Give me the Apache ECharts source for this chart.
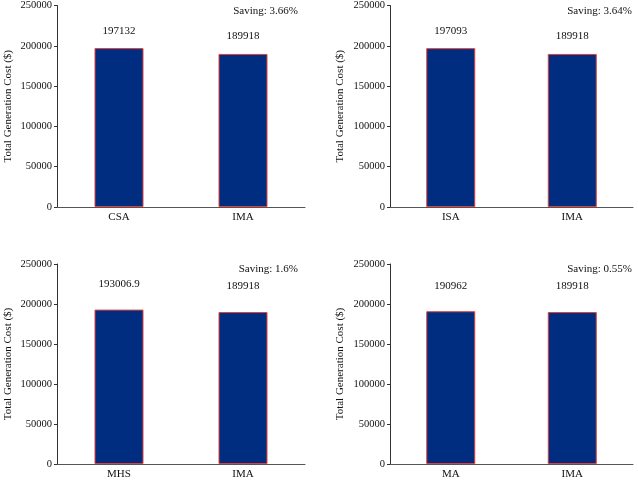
<!DOCTYPE html>
<html>
<head>
<meta charset="utf-8">
<script src="https://cdn.jsdelivr.net/npm/echarts@6/dist/echarts.min.js"></script>
<style>html,body{margin:0;padding:0;background:#fff;}#c{width:638px;height:480px;}</style>
</head>
<body>
<div id="c"></div>
<script>
var categories1 = ['CSA', 'IMA'];
var values1 = [197132, 189918];
var categories2 = ['ISA', 'IMA'];
var values2 = [197093, 189918];
var categories3 = ['MHS', 'IMA'];
var values3 = [193006.9, 189918];
var categories4 = ['MA', 'IMA'];
var values4 = [190962, 189918];
var savings = ['Saving: 3.66%', 'Saving: 3.64%', 'Saving: 1.6%', 'Saving: 0.55%'];
var yTicks = [0, 50000, 100000, 150000, 200000, 250000];
var yAxisName = 'Total Generation Cost ($)';

var FONT = 'Liberation Serif';
var cats = [categories1, categories2, categories3, categories4];
var vals = [values1, values2, values3, values4];
var grids = [
  {left: 57, top: 4, width: 248, height: 203},
  {left: 390, top: 4, width: 243, height: 203},
  {left: 57, top: 264, width: 248, height: 203},
  {left: 390, top: 264, width: 243, height: 203}
];
var labelDist = [12, 12, 20, 20];
var nameGaps = [43, 44, 43, 44];
var savePos = [[298, 11], [632, 11], [298, 269], [632, 269]];

var option = {
  backgroundColor: '#fff',
  animation: false,
  grid: grids.map(function (g) { return Object.assign({containLabel: false}, g); }),
  xAxis: cats.map(function (c, i) {
    return {
      type: 'category', gridIndex: i, data: c,
      axisLine: {lineStyle: {color: '#555', width: 1}},
      axisTick: {show: false},
      axisLabel: {color: '#111', fontFamily: FONT, fontSize: 11, margin: 5}
    };
  }),
  yAxis: cats.map(function (c, i) {
    return {
      type: 'value', gridIndex: i, min: yTicks[0], max: yTicks[yTicks.length - 1],
      interval: yTicks[1] - yTicks[0],
      name: yAxisName, nameLocation: 'middle', nameGap: nameGaps[i],
      nameTextStyle: {color: '#111', fontFamily: FONT, fontSize: 11},
      axisLine: {show: true, lineStyle: {color: '#333', width: 1}},
      axisTick: {show: true, length: 3, inside: false, lineStyle: {color: '#333'}},
      splitLine: {show: false},
      axisLabel: {color: '#111', fontFamily: FONT, fontSize: 10.5, margin: 5,
        formatter: function (v) { return String(v); }}
    };
  }),
  series: vals.map(function (v, i) {
    return {
      type: 'bar', xAxisIndex: i, yAxisIndex: i, data: v, barWidth: 49,
      itemStyle: {color: '#002D80', borderColor: '#E0403A', borderWidth: 1},
      label: {show: true, position: 'top', distance: labelDist[i], color: '#111',
        fontFamily: FONT, fontSize: 11}
    };
  }),
  graphic: savings.map(function (s, i) {
    return {
      type: 'text', x: savePos[i][0], y: savePos[i][1],
      style: {text: s, fill: '#111', font: '11px "Liberation Serif"', textAlign: 'right', textVerticalAlign: 'middle'}
    };
  })
};
var chart = echarts.init(document.getElementById('c'), null, {renderer: 'canvas'});
chart.setOption(option);
</script>
</body>
</html>
